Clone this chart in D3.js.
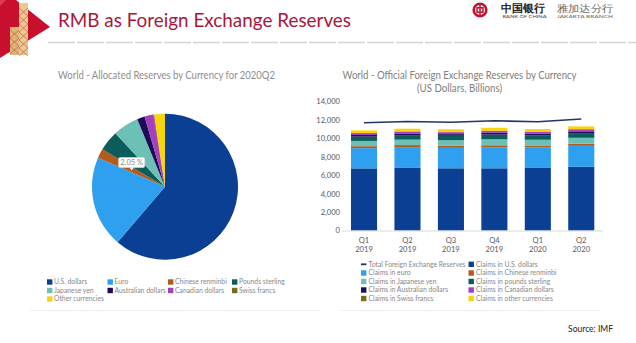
<!DOCTYPE html>
<html><head><meta charset="utf-8">
<script src="https://cdn.jsdelivr.net/npm/d3@7"></script>
<style>
html,body{margin:0;padding:0;background:#fff;}
svg{display:block;}
text{font-family:Lato,"Open Sans",sans-serif;}
</style></head>
<body>
<svg id="c" width="636" height="343"></svg>
<script>
// ---------- DATA ----------
const pieCurrencies = ["U.S. dollars","Euro","Chinese renminbi","Pounds sterling","Japanese yen","Australian dollars","Canadian dollars","Swiss francs","Other currencies"];
const pieShares = [61.26, 20.26, 2.05, 4.54, 5.70, 1.69, 1.98, 0.17, 2.36];
const pieColors = ["#0b3f93","#2f9ff0","#b45a1d","#0b5c5a","#6dc0b6","#1c0b55","#a43fbf","#7b6a1c","#f8d40c"];

const quarters = ["Q1","Q2","Q3","Q4","Q1","Q2"];
const years = ["2019","2019","2019","2019","2020","2020"];
const totalReserves = [11700, 11830, 11740, 11910, 11800, 12100];
const claimsUSD = [6740, 6790, 6750, 6750, 6790, 6910];
const claimsEUR = [2200, 2260, 2220, 2280, 2220, 2280];
const claimsCNY = [210, 220, 220, 220, 220, 230];
const claimsJPY = [570, 590, 610, 650, 620, 640];
const claimsGBP = [470, 490, 480, 510, 490, 510];
const claimsAUD = [180, 180, 180, 190, 180, 190];
const claimsCAD = [200, 210, 210, 210, 200, 220];
const claimsCHF = [16, 16, 16, 16, 16, 20];
const claimsOther = [280, 290, 300, 320, 280, 300];
const yTicks = [0, 2000, 4000, 6000, 8000, 10000, 12000, 14000];

const barSeries = [
  {key:"Claims in U.S. dollars", vals:claimsUSD, color:"#0b3f93"},
  {key:"Claims in euro", vals:claimsEUR, color:"#2f9ff0"},
  {key:"Claims in Chinese renminbi", vals:claimsCNY, color:"#b45a1d"},
  {key:"Claims in Japanese yen", vals:claimsJPY, color:"#6dc0b6"},
  {key:"Claims in pounds sterling", vals:claimsGBP, color:"#0b5c5a"},
  {key:"Claims in Australian dollars", vals:claimsAUD, color:"#1c0b55"},
  {key:"Claims in Canadian dollars", vals:claimsCAD, color:"#a43fbf"},
  {key:"Claims in Swiss francs", vals:claimsCHF, color:"#7b6a1c"},
  {key:"Claims in other currencies", vals:claimsOther, color:"#f8d40c"}
];

const svg = d3.select("#c");

// ---------- HEADER ----------
const hdr = svg.append("g");
hdr.append("path").attr("d","M0,0 L16,0 L50,27 L0,58 Z").attr("fill","#c8102e");
hdr.append("path").attr("d","M0,0 L6,0 L0,6 Z").attr("fill","#e23a50");
hdr.append("rect").attr("x",19).attr("y",3).attr("width",9).attr("height",52).attr("fill","#e9c98e");
hdr.append("rect").attr("x",10).attr("y",27).attr("width",9).attr("height",28).attr("fill","#dcb677");
const hatch = hdr.append("g").attr("stroke","#c8464a").attr("stroke-width",0.6).attr("fill","none");
for (let i=0;i<6;i++){
  const y0 = 8 + i*8;
  hatch.append("path").attr("d",`M19,${y0} L28,${y0+8} M28,${y0} L19,${y0+8}`);
}
for (let i=0;i<3;i++){
  const y0 = 30 + i*8;
  hatch.append("path").attr("d",`M10,${y0} L19,${y0+8} M19,${y0} L10,${y0+8}`);
}
hdr.append("text").attr("x",58).attr("y",27).attr("font-family","'Open Sans',Lato,sans-serif")
  .attr("font-size",19).attr("fill","#a8173a").attr("textLength",293).attr("lengthAdjust","spacingAndGlyphs")
  .text("RMB as Foreign Exchange Reserves");
hdr.append("line").attr("x1",48).attr("x2",636).attr("y1",42.5).attr("y2",42.5)
  .attr("stroke","#d4d4d4").attr("stroke-width",1.5).attr("stroke-dasharray","27,2");
const logo = hdr.append("g").attr("transform","translate(480,10)");
logo.append("circle").attr("r",6.3).attr("fill","none").attr("stroke","#c8102e").attr("stroke-width",2.6);
logo.append("rect").attr("x",-3).attr("y",-2.2).attr("width",6).attr("height",4.4).attr("fill","none").attr("stroke","#c8102e").attr("stroke-width",1.5);
logo.append("line").attr("x1",0).attr("x2",0).attr("y1",-7).attr("y2",7).attr("stroke","#c8102e").attr("stroke-width",1.5);
hdr.append("text").attr("x",501).attr("y",12).attr("font-family","'Noto Sans CJK SC'").attr("font-size",11).attr("font-weight","bold").attr("fill","#222").attr("textLength",44).attr("lengthAdjust","spacingAndGlyphs").text("中国银行");
hdr.append("text").attr("x",502.5).attr("y",18).attr("font-family","'Liberation Serif',serif").attr("font-size",4.5).attr("fill","#444").attr("textLength",44).attr("lengthAdjust","spacingAndGlyphs").text("BANK OF CHINA");
hdr.append("text").attr("x",557).attr("y",11.5).attr("font-family","'Noto Sans CJK SC'").attr("font-size",10).attr("font-weight",300).attr("fill","#666").attr("textLength",56).attr("lengthAdjust","spacingAndGlyphs").text("雅加达分行");
hdr.append("text").attr("x",557).attr("y",18).attr("font-family","'Liberation Serif',serif").attr("font-size",4.5).attr("fill","#666").attr("textLength",56).attr("lengthAdjust","spacingAndGlyphs").text("JAKARTA BRANCH");

// ---------- PIE ----------
const pieG = svg.append("g");
pieG.append("text").attr("x",166.5).attr("y",78.5).attr("text-anchor","middle").attr("font-size",10.5).attr("fill","#8e8e8e")
  .attr("textLength",217).attr("lengthAdjust","spacingAndGlyphs")
  .text("World - Allocated Reserves by Currency for 2020Q2");
const cx = 165, cy = 186.7, R = 73;
const pie = d3.pie().sort(null).value(d=>d.v);
const pdata = pie(pieCurrencies.map((c,i)=>({c, v:pieShares[i], color:pieColors[i]})));
const arc = d3.arc().innerRadius(0).outerRadius(R);
const pg = pieG.append("g").attr("transform",`translate(${cx},${cy})`);
pg.selectAll("path").data(pdata).join("path").attr("d",arc).attr("fill",d=>d.data.color);
const cnyArc = pdata[2];
const c2 = d3.arc().innerRadius(0).outerRadius(R*1.15).centroid(cnyArc);
const tx = c2[0] + 4, ty = c2[1] + 3;
const tip = pg.append("g").attr("transform",`translate(${tx},${ty})`);
tip.append("rect").attr("x",-13).attr("y",-13).attr("width",26).attr("height",10).attr("rx",1.5)
  .attr("fill","#fff").attr("stroke","#ddd").attr("stroke-width",0.6);
tip.append("path").attr("d","M-2,-3 L0,0 L2,-3 Z").attr("fill","#fff");
tip.append("text").attr("x",0).attr("y",-5.2).attr("text-anchor","middle").attr("font-size",7.5).attr("fill","#8a8a8a").text(pieShares[2].toFixed(2)+" %");

const plCols = [47, 107.5, 168, 232];
const plRows = [282, 290.5, 299];
const plg = pieG.append("g");
pieCurrencies.forEach((c,i)=>{
  const col = i%4, row = Math.floor(i/4);
  const g = plg.append("g").attr("transform",`translate(${plCols[col]},${plRows[row]})`);
  g.append("rect").attr("x",0).attr("y",-2.7).attr("width",5.4).attr("height",5.4).attr("fill",pieColors[i]);
  g.append("text").attr("x",7).attr("y",2.4).attr("font-size",6.8).attr("fill","#888").text(c);
});
pieG.append("line").attr("x1",30).attr("x2",320).attr("y1",310.5).attr("y2",310.5).attr("stroke","#f0f0f0");

// ---------- BAR CHART ----------
const bG = svg.append("g");
bG.append("text").attr("x",459.5).attr("y",78.5).attr("text-anchor","middle").attr("font-size",10.5).attr("fill","#808080")
  .attr("textLength",234).attr("lengthAdjust","spacingAndGlyphs")
  .text("World - Official Foreign Exchange Reserves by Currency");
bG.append("text").attr("x",459.5).attr("y",91.5).attr("text-anchor","middle").attr("font-size",10.5).attr("fill","#808080")
  .attr("textLength",85).attr("lengthAdjust","spacingAndGlyphs")
  .text("(US Dollars, Billions)");

const idx = d3.range(quarters.length);
const x = d3.scaleBand().domain(idx).range([342.3, 603]).paddingInner(0.4).paddingOuter(0.2);
const y = d3.scaleLinear().domain([0,14000]).range([230.5, 101.5]);

const yAxis = d3.axisLeft(y).tickValues(yTicks).tickFormat(d3.format(",")).tickSize(0).tickPadding(0);
const ya = bG.append("g").attr("transform","translate(340,0)").call(yAxis);
ya.select(".domain").remove();
ya.selectAll("text").attr("font-family","Lato,sans-serif").attr("font-size",7.6).attr("fill","#595959");

const rows = idx.map(i=>{ const o={i}; barSeries.forEach(s=>o[s.key]=s.vals[i]); return o; });
const stack = d3.stack().keys(barSeries.map(s=>s.key));
const stacked = stack(rows);
bG.selectAll("g.layer").data(stacked).join("g").attr("class","layer")
  .attr("fill",(d,k)=>barSeries[k].color)
  .selectAll("rect").data(d=>d).join("rect")
  .attr("x",d=>x(d.data.i)).attr("width",x.bandwidth())
  .attr("y",d=>y(d[1])).attr("height",d=>y(d[0])-y(d[1]));

bG.append("line").attr("x1",342).attr("x2",603).attr("y1",y(0)+0.5).attr("y2",y(0)+0.5).attr("stroke","#d9d9d9").attr("stroke-width",1);

const line = d3.line().x((d,i)=>x(i)+x.bandwidth()/2).y(d=>y(d));
bG.append("path").datum(totalReserves).attr("d",line).attr("fill","none").attr("stroke","#1f3766").attr("stroke-width",1.6);

const xAxis = d3.axisBottom(x).tickSize(0).tickPadding(0).tickFormat(i=>quarters[i]);
const xa = bG.append("g").attr("transform",`translate(0,${y(0)})`).call(xAxis);
xa.select(".domain").remove();
xa.selectAll("text").attr("dy",null).attr("y",12).attr("font-family","Lato,sans-serif").attr("font-size",7.6).attr("fill","#595959");
xa.selectAll(".tick").append("text").attr("y",21.5).attr("text-anchor","middle").attr("font-size",7.6).attr("fill","#595959").text(i=>years[i]);

const blCols = [361, 468.5];
const blRows = [264.3, 273, 281.5, 290, 298.5];
const legendItems = [{key:"Total Foreign Exchange Reserves", color:"#1f3766", line:true}].concat(barSeries);
const blg = bG.append("g");
legendItems.forEach((s,i)=>{
  const col = i%2, row = Math.floor(i/2);
  const g = blg.append("g").attr("transform",`translate(${blCols[col]},${blRows[row]})`);
  if (s.line) g.append("rect").attr("x",0).attr("y",-0.9).attr("width",5.4).attr("height",1.8).attr("fill",s.color);
  else g.append("rect").attr("x",0).attr("y",-2.7).attr("width",5.4).attr("height",5.4).attr("fill",s.color);
  g.append("text").attr("x",7.5).attr("y",2.4).attr("font-size",6.8).attr("fill","#888").text(s.key);
});
bG.append("line").attr("x1",340).attr("x2",600).attr("y1",310.5).attr("y2",310.5).attr("stroke","#f0f0f0");

svg.append("text").attr("x",613).attr("y",332).attr("text-anchor","end").attr("font-family","'Open Sans',sans-serif").attr("font-size",8.5).attr("fill","#222").text("Source: IMF");
</script>
</body></html>
